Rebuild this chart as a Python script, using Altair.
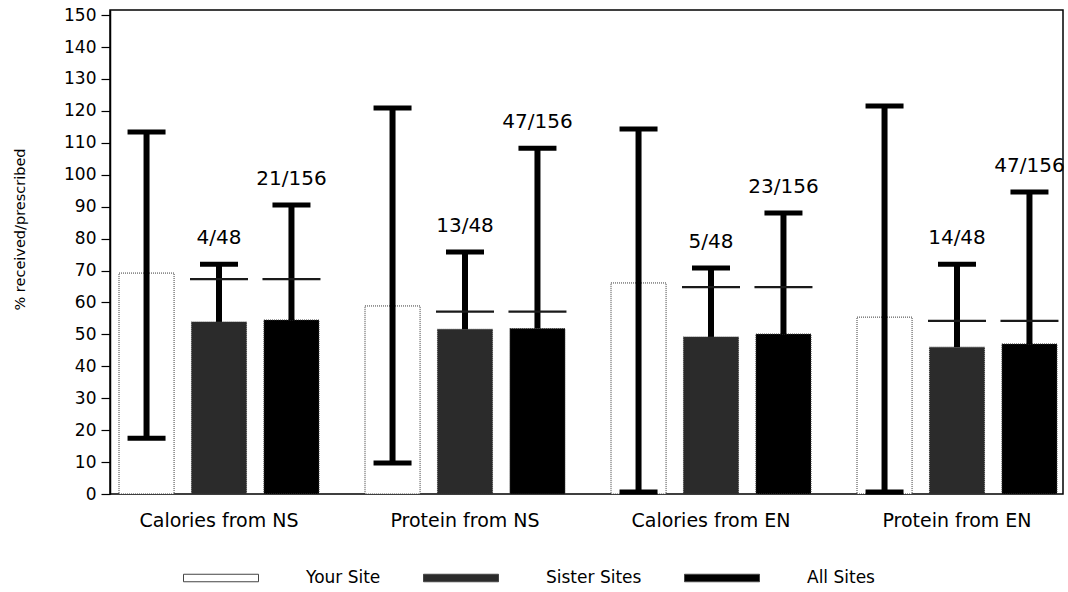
import altair as alt
import pandas as pd

# Nutrition delivery: percent of prescribed intake actually received
groups = ["Calories from NS", "Protein from NS", "Calories from EN", "Protein from EN"]
sites = ["Your Site", "Sister Sites", "All Sites"]

your_mean = [69.2, 58.9, 66.1, 55.4]
your_low = [17.5, 9.7, 0.6, 0.6]
your_high = [113.4, 120.9, 114.3, 121.5]

sister_mean = [53.9, 51.6, 49.2, 46.0]
sister_high = [72.0, 75.8, 70.8, 72.0]
sister_counts = ["4/48", "13/48", "5/48", "14/48"]

all_mean = [54.5, 51.8, 50.1, 47.0]
all_high = [90.5, 108.3, 88.0, 94.6]
all_counts = ["21/156", "47/156", "23/156", "47/156"]

# reference level drawn across the sister / all-site bars
reference = [67.3, 57.1, 64.8, 54.2]

rows = []
for i, g in enumerate(groups):
    rows.append({"group": g, "site": "Your Site", "mean": your_mean[i],
                 "low": your_low[i], "high": your_high[i],
                 "ref": None, "count": None})
    rows.append({"group": g, "site": "Sister Sites", "mean": sister_mean[i],
                 "low": sister_mean[i], "high": sister_high[i],
                 "ref": reference[i], "count": sister_counts[i]})
    rows.append({"group": g, "site": "All Sites", "mean": all_mean[i],
                 "low": all_mean[i], "high": all_high[i],
                 "ref": reference[i], "count": all_counts[i]})
df = pd.DataFrame(rows)

FONT = "DejaVu Sans"

x_enc = alt.X(
    "group:N", sort=groups,
    scale=alt.Scale(paddingInner=0.187, paddingOuter=0.0305, align=0.6),
    axis=alt.Axis(title=None, labelAngle=0, ticks=False, domain=False,
                  labelPadding=17, labelFontSize=19, labelColor="black",
                  labelFont=FONT),
)
xo_enc = alt.XOffset("site:N", sort=sites,
                     scale=alt.Scale(paddingInner=0.24, paddingOuter=0))
y_scale = alt.Scale(domain=[0, 151.6], nice=False, zero=True)
y_axis = alt.Axis(values=list(range(0, 151, 10)), grid=False,
                  tickSize=9, tickColor="black", tickWidth=1.2,
                  domainColor="black", domainWidth=1.5, labelFontSize=17,
                  labelColor="black", labelFont=FONT, labelPadding=5,
                  title="% received/prescribed", titleFontSize=14.5,
                  titleFontWeight="normal", titleFont=FONT,
                  titleColor="black", titleX=-90, titleY=219,
                  titleAlign="center", titleBaseline="middle")

base = alt.Chart(df)

bars = base.mark_bar(stroke="#3a3a3a", strokeDash=[1, 1], strokeWidth=1).encode(
    x=x_enc,
    xOffset=xo_enc,
    y=alt.Y("mean:Q", scale=y_scale, axis=y_axis),
    fill=alt.Fill(
        "site:N", sort=sites,
        scale=alt.Scale(domain=sites, range=["#ffffff", "#2b2b2b", "#000000"]),
        legend=alt.Legend(
            title=None, orient="none", direction="horizontal", columns=3,
            legendX=73, legendY=530, padding=0,
            symbolType="M-1,-0.1H1V0.1H-1Z", symbolSize=5625,
            symbolStrokeColor="#444", symbolStrokeWidth=1,
            labelFontSize=17, labelFont=FONT, labelColor="black",
            labelOffset=47, columnPadding=40,
        ),
    ),
)

whiskers = base.mark_rule(strokeWidth=6, color="black").encode(
    x=x_enc, xOffset=xo_enc,
    y=alt.Y("low:Q", scale=y_scale, axis=y_axis),
    y2="high:Q",
)

top_caps = base.mark_tick(size=38, thickness=5, color="black", opacity=1).encode(
    x=x_enc, xOffset=xo_enc,
    y=alt.Y("high:Q", scale=y_scale, axis=y_axis),
)

low_caps = base.transform_filter(alt.datum.site == "Your Site").mark_tick(
    size=38, thickness=5, color="black", opacity=1
).encode(
    x=x_enc, xOffset=xo_enc,
    y=alt.Y("low:Q", scale=y_scale, axis=y_axis),
)

ref_lines = base.transform_filter(alt.datum.ref != None).mark_tick(
    size=58, thickness=2.2, color="#1a1a1a", opacity=1
).encode(
    x=x_enc, xOffset=xo_enc,
    y=alt.Y("ref:Q", scale=y_scale, axis=y_axis),
)

labels = base.transform_filter(alt.datum.count != None).mark_text(
    dy=-26, fontSize=20, font=FONT, color="black", baseline="middle"
).encode(
    x=x_enc, xOffset=xo_enc,
    y=alt.Y("high:Q", scale=y_scale, axis=y_axis),
    text="count:N",
)

chart = alt.layer(bars, whiskers, top_caps, low_caps, ref_lines, labels).properties(
    width=953, height=484,
    autosize=alt.AutoSizeParams(type="none"),
    padding={"left": 110, "top": 10, "right": 5, "bottom": 98},
).configure(
    background="white",
    view=alt.ViewConfig(stroke="black", strokeWidth=1.5),
)

chart.save("out.html", embed_options={"renderer": "svg", "actions": False})
